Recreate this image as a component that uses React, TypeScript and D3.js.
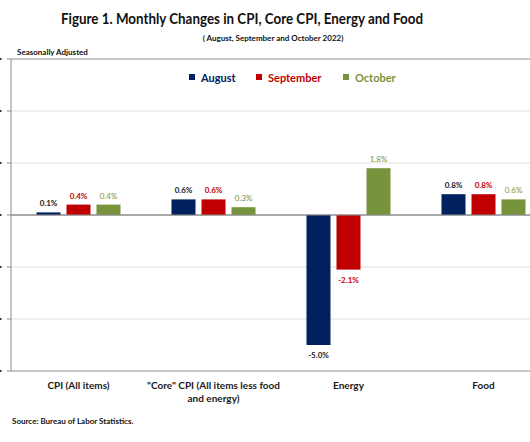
import React from "react";
import * as d3 from "d3";

const categories = ["CPI (All items)", "\"Core\" CPI (All items less food and energy)", "Energy", "Food"];
const categoryLines = [["CPI (All items)"], ["\"Core\" CPI (All items less food", "and energy)"], ["Energy"], ["Food"]];
const seriesNames = ["August", "September", "October"];
const august = [0.1, 0.6, -5.0, 0.8];
const september = [0.4, 0.6, -2.1, 0.8];
const october = [0.4, 0.3, 1.8, 0.6];
const yTicks = [-6, -4, -2, 0, 2, 4, 6];

const colors = ["#002060", "#C00000", "#77933C"];
const labelColors = ["#1a1a1a", "#C00000", "#77933C"];
const FONT = "Lato, 'Open Sans', sans-serif";

export default function App() {
  const W = 530, H = 442;
  const left = 11, right = 551, top = 59, bottom = 371;
  const x0 = d3.scaleBand<string>().domain(categories).range([left, right]).padding(0);
  const inner = 90;
  const x1 = d3.scaleBand<string>().domain(seriesNames)
    .range([(x0.bandwidth() - inner) / 2, (x0.bandwidth() + inner) / 2])
    .paddingInner(0.2).paddingOuter(0.1);
  const y = d3.scaleLinear().domain([-6, 6]).range([bottom, top]);
  const data = [august, september, october];

  return (
    <svg width={W} height={H} style={{ position: "absolute", left: 0, top: 0, background: "#fff" }} fontFamily={FONT}>
      <text x={61} y={24} fontSize={15.5} fontWeight={700} fill="#111"
        textLength={362} lengthAdjust="spacingAndGlyphs">
        Figure 1. Monthly Changes in CPI, Core CPI, Energy and Food
      </text>
      <text x={273} y={41} textAnchor="middle" fontSize={8} fontWeight={700} fill="#111">
        ( August, September and October 2022)
      </text>
      <text x={17} y={55} fontSize={8} fontWeight={700} fill="#111">Seasonally Adjusted</text>

      {/* grid */}
      {yTicks.map((t) => (
        <line key={"g" + t} x1={left} x2={W} y1={y(t)} y2={y(t)}
          stroke={t === 0 || t === 6 || t === -6 ? "#8c8c8c" : "#e0e0e0"} strokeWidth={1} />
      ))}
      {yTicks.map((t) => (
        <g key={"t" + t}>
          <line x1={7} x2={left} y1={y(t)} y2={y(t)} stroke="#8c8c8c" />
          <rect x={0} y={y(t) - 1} width={1.5} height={2} fill="#333" />
        </g>
      ))}
      <line x1={left} x2={left} y1={top} y2={bottom} stroke="#8c8c8c" />

      {/* legend */}
      {seriesNames.map((s, i) => {
        const lx = [189, 256, 343][i];
        return (
          <g key={s}>
            <rect x={lx} y={74} width={6} height={6} fill={colors[i]} />
            <text x={lx + 12} y={81.5} fontSize={11} fontWeight={700} fill={colors[i]}>{s}</text>
          </g>
        );
      })}

      {/* bars */}
      {categories.map((c, ci) => (
        <g key={c} transform={`translate(${x0(c)},0)`}>
          {seriesNames.map((s, si) => {
            const v = data[si][ci];
            const y0 = y(0), yv = y(v);
            const bx = x1(s)!;
            const bw = x1.bandwidth();
            return (
              <g key={s}>
                <rect x={bx} y={Math.min(y0, yv)} width={bw} height={Math.abs(yv - y0)} fill={colors[si]} />
                <text x={bx + bw / 2} y={v >= 0 ? yv - 6 : yv + 13} textAnchor="middle" fontSize={8}
                  fontWeight={si === 2 ? 400 : 700} fill={labelColors[si]}>
                  {v.toFixed(1)}%
                </text>
              </g>
            );
          })}
        </g>
      ))}
      {/* redraw zero line over bars */}
      <line x1={left} x2={W} y1={y(0)} y2={y(0)} stroke="#8c8c8c" />

      {/* category labels */}
      {categories.map((c, ci) => (
        <text key={c} x={x0(c)! + x0.bandwidth() / 2} y={389} textAnchor="middle" fontSize={10} fontWeight={700} fill="#1a1a1a">
          {categoryLines[ci].map((ln, li) => (
            <tspan key={li} x={x0(c)! + x0.bandwidth() / 2} dy={li === 0 ? 0 : 13}>{ln}</tspan>
          ))}
        </text>
      ))}

      <text x={12} y={424} fontSize={8} fontWeight={700} fill="#111">Source: Bureau of Labor Statistics.</text>
    </svg>
  );
}
